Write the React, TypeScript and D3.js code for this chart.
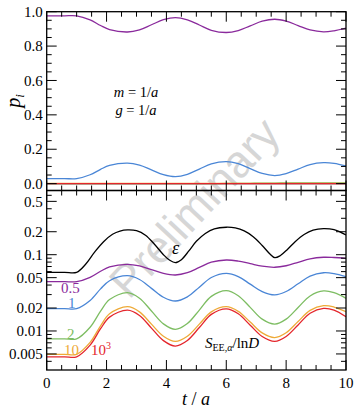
import * as d3 from "d3";

// time grid (t / a) shared by the coloured curves
const T = [0, 0.6, 1, 1.45, 1.8, 2.1, 2.7, 3.1, 3.5, 3.9, 4.3, 4.7, 5.1, 5.5, 6.0, 6.4, 6.8, 7.2, 7.62, 8.0, 8.4, 8.8, 9.25, 9.6, 10];

// top panel: p_i
const P_PURPLE = [0.976, 0.976, 0.976, 0.9525, 0.9196, 0.896, 0.882, 0.8946, 0.924, 0.9534, 0.966, 0.953, 0.9225, 0.892, 0.879, 0.8906, 0.9175, 0.9445, 0.956, 0.945, 0.9195, 0.894, 0.883, 0.889, 0.904];
const P_BLUE = [0.029, 0.029, 0.029, 0.0515, 0.083, 0.1055, 0.119, 0.1073, 0.08, 0.0527, 0.041, 0.054, 0.0845, 0.115, 0.128, 0.1159, 0.0875, 0.0592, 0.047, 0.0583, 0.0845, 0.1108, 0.122, 0.118, 0.103];
const P_BLACK = [0, 0, 0, 0, 0, 0, 0, 0, 0, 0, 0, 0, 0, 0, 0, 0, 0, 0, 0, 0, 0, 0, 0, 0, 0];
const P_GREEN = [0, 0, 0, 0, 0, 0, 0, 0, 0, 0, 0, 0, 0, 0, 0.001, 0.001, 0.002, 0.003, 0.003, 0.004, 0.004, 0.004, 0.004, 0.004, 0.004];
const P_ORANGE = [0.001, 0.001, 0.001, 0.001, 0.001, 0.001, 0.001, 0.001, 0.001, 0.001, 0.001, 0.001, 0.001, 0.001, 0.001, 0.001, 0.001, 0.001, 0.001, 0.001, 0.001, 0.001, 0.001, 0.001, 0.001];
const P_RED = [0, 0, 0, 0, 0, 0, 0, 0, 0, 0, 0, 0, 0, 0, 0, 0, 0, 0, 0, 0, 0, 0, 0, 0, 0];

// bottom panel: epsilon has its own, denser time grid
const EPS_T = [0, 0.6, 1.0, 1.3, 1.6, 1.9, 2.2, 2.45, 2.7, 3.0, 3.3, 3.6, 3.9, 4.1, 4.3, 4.5, 4.75, 5.0, 5.3, 5.6, 6.0, 6.3, 6.6, 6.9, 7.2, 7.45, 7.62, 7.8, 8.05, 8.3, 8.6, 8.9, 9.25, 9.6, 10];
const EPS = [0.0588, 0.0588, 0.0588, 0.075, 0.108, 0.148, 0.185, 0.204, 0.211, 0.206, 0.18, 0.137, 0.1, 0.085, 0.0785, 0.086, 0.112, 0.15, 0.19, 0.218, 0.229, 0.224, 0.205, 0.172, 0.132, 0.103, 0.0914, 0.097, 0.118, 0.148, 0.184, 0.21, 0.22, 0.213, 0.181];

// S_EE,alpha / ln D for alpha = 0.5, 1, 2, 10, 10^3
const S_05 = [0.0443, 0.0443, 0.0443, 0.0505, 0.0606, 0.0692, 0.0748, 0.0713, 0.0637, 0.0569, 0.0542, 0.058, 0.068, 0.0796, 0.0852, 0.0824, 0.0763, 0.0707, 0.0684, 0.0716, 0.0795, 0.0884, 0.0925, 0.0918, 0.0897];
const S_1 = [0.0196, 0.0196, 0.0196, 0.0251, 0.0356, 0.0456, 0.053, 0.0473, 0.0362, 0.0277, 0.0247, 0.028, 0.0375, 0.0503, 0.057, 0.0517, 0.0411, 0.0328, 0.0297, 0.0329, 0.0415, 0.0525, 0.058, 0.0565, 0.0515];
const S_2 = [0.0079, 0.0079, 0.0079, 0.0112, 0.0182, 0.0258, 0.0318, 0.0269, 0.0183, 0.0124, 0.0105, 0.0125, 0.0188, 0.0284, 0.0338, 0.029, 0.0204, 0.0143, 0.0123, 0.0143, 0.0203, 0.0288, 0.0335, 0.0318, 0.0268];
const S_10 = [0.00495, 0.00495, 0.00495, 0.00709, 0.0117, 0.0168, 0.0208, 0.0178, 0.0123, 0.00854, 0.0073, 0.00854, 0.0123, 0.0178, 0.0208, 0.0181, 0.0131, 0.00943, 0.0082, 0.00948, 0.0133, 0.0186, 0.0215, 0.0206, 0.0179];
const S_1000 = [0.00459, 0.00459, 0.00459, 0.00653, 0.0107, 0.0152, 0.0188, 0.016, 0.0109, 0.00747, 0.00635, 0.00751, 0.0111, 0.0165, 0.0195, 0.0168, 0.0119, 0.00846, 0.0073, 0.00848, 0.012, 0.0171, 0.0198, 0.0188, 0.0154];

const X_LABELS = [0, 2, 4, 6, 8, 10];
const TOP_LABELS = [0, 0.2, 0.4, 0.6, 0.8, 1.0];
const BOT_LABELS = [0.005, 0.01, 0.02, 0.05, 0.1, 0.2, 0.5];
const BOT_TEXT = ["0.005", "0.01", "0.02", "0.05", "0.1", "0.2", "0.5"];

const PURPLE = "#8a2a9c";
const BLUE = "#4a86d6";
const GREEN = "#7dbd62";
const ORANGE = "#eeaa38";
const RED = "#e4262c";

const W = 354;
const H = 411;
const L = 46.7;
const R = 346;
const TOP_Y0 = 11.7;
const MID_Y = 190.5;
const BOT_Y1 = 370;

export default function App() {
	const x = d3.scaleLinear().domain([0, 10]).range([L, R]);
	const yTop = d3.scaleLinear().domain([-0.04, 1]).range([MID_Y, TOP_Y0]);
	const yBot = d3.scaleLog().domain([0.00308, 0.694]).range([BOT_Y1, MID_Y]);

	const curve = d3.curveCatmullRom.alpha(0.5);
	const lineTop = (ts: number[], vs: number[]) =>
		d3
			.line<number>()
			.x((_, i) => x(ts[i]))
			.y((d) => yTop(d))
			.curve(curve)(vs) ?? "";
	const lineBot = (ts: number[], vs: number[]) =>
		d3
			.line<number>()
			.x((_, i) => x(ts[i]))
			.y((d) => yBot(d))
			.curve(curve)(vs) ?? "";

	const xMinor = d3.range(0, 10.001, 0.5);
	const topMinor = d3.range(0, 1.001, 0.05);
	const botMinor = yBot.ticks().filter((v) => yBot(v) > MID_Y + 0.5 && yBot(v) < BOT_Y1 - 0.5);

	const topSeries: [number[], string][] = [
		[P_BLACK, "#000"],
		[P_GREEN, GREEN],
		[P_ORANGE, ORANGE],
		[P_RED, RED],
		[P_BLUE, BLUE],
		[P_PURPLE, PURPLE],
	];
	const botSeries: [number[], number[], string][] = [
		[EPS_T, EPS, "#000"],
		[T, S_05, PURPLE],
		[T, S_1, BLUE],
		[T, S_2, GREEN],
		[T, S_10, ORANGE],
		[T, S_1000, RED],
	];

	const tickStroke = { stroke: "#000", strokeWidth: 1 };
	const serif = { fontFamily: "Liberation Serif" };

	return (
		<svg width={W} height={H} style={{ position: "absolute", left: 0, top: 0, background: "#fff" }}>
			<defs>
				<clipPath id="clipTop">
					<rect x={L} y={TOP_Y0} width={R - L} height={MID_Y - TOP_Y0} />
				</clipPath>
				<clipPath id="clipBot">
					<rect x={L} y={MID_Y} width={R - L} height={BOT_Y1 - MID_Y} />
				</clipPath>
			</defs>

			{/* watermark */}
			<text
				x={0}
				y={0}
				transform="translate(197,210) rotate(-47)"
				textAnchor="middle"
				dominantBaseline="middle"
				style={{ fontFamily: "Liberation Sans" }}
				fontSize={45}
				fill="#d6d6d6"
			>
				Preliminary
			</text>

			{/* curves */}
			<g clipPath="url(#clipTop)" fill="none" strokeWidth={1.3}>
				{topSeries.map(([d, c], i) => (
					<path key={i} d={lineTop(T, d)} stroke={c} />
				))}
			</g>
			<g clipPath="url(#clipBot)" fill="none" strokeWidth={1.3}>
				{botSeries.map(([ts, d, c], i) => (
					<path key={i} d={lineBot(ts, d)} stroke={c} />
				))}
			</g>

			{/* x ticks for both panels, top and bottom edges */}
			{[TOP_Y0, MID_Y, BOT_Y1].map((yy, k) =>
				xMinor.map((t) => {
					const major = Math.abs(t % 2) < 1e-6;
					const len = major ? 10 : 5;
					const xx = x(t);
					return (
						<g key={`x${k}-${t}`}>
							{k < 2 && <line x1={xx} x2={xx} y1={yy} y2={yy + len} {...tickStroke} />}
							{k > 0 && <line x1={xx} x2={xx} y1={yy} y2={yy - len} {...tickStroke} />}
						</g>
					);
				}),
			)}

			{/* top y ticks */}
			{topMinor.map((v) => {
				const major = Math.abs(Math.round(v * 5) - v * 5) < 1e-6;
				const len = major ? 10 : 5;
				const yy = yTop(v);
				return (
					<g key={`ty${v}`}>
						<line x1={L} x2={L + len} y1={yy} y2={yy} {...tickStroke} />
						<line x1={R} x2={R - len} y1={yy} y2={yy} {...tickStroke} />
					</g>
				);
			})}
			{TOP_LABELS.map((v) => (
				<text key={`tl${v}`} x={L - 4} y={yTop(v)} dy="0.35em" textAnchor="end" fontSize={15} style={serif}>
					{v.toFixed(1)}
				</text>
			))}

			{/* bottom y ticks */}
			{botMinor.map((v) => {
				const major = BOT_LABELS.some((b) => Math.abs(b - v) / b < 1e-6);
				const len = major ? 10 : 5;
				const yy = yBot(v);
				return (
					<g key={`by${v}`}>
						<line x1={L} x2={L + len} y1={yy} y2={yy} {...tickStroke} />
						<line x1={R} x2={R - len} y1={yy} y2={yy} {...tickStroke} />
					</g>
				);
			})}
			{BOT_LABELS.map((v, i) => (
				<text key={`bl${v}`} x={L - 4} y={yBot(v)} dy="0.35em" textAnchor="end" fontSize={15} style={serif}>
					{BOT_TEXT[i]}
				</text>
			))}

			{/* x labels */}
			{X_LABELS.map((v) => (
				<text key={`xl${v}`} x={x(v)} y={388} textAnchor="middle" fontSize={15} style={serif}>
					{v}
				</text>
			))}

			{/* frames */}
			<rect x={L} y={TOP_Y0} width={R - L} height={MID_Y - TOP_Y0} fill="none" stroke="#000" strokeWidth={1.3} />
			<rect x={L} y={MID_Y} width={R - L} height={BOT_Y1 - MID_Y} fill="none" stroke="#000" strokeWidth={1.3} />

			{/* axis titles */}
			<text x={196} y={405} textAnchor="middle" fontSize={18} fontStyle="italic" style={serif}>
				t <tspan fontStyle="normal">/</tspan> a
			</text>
			<text transform="translate(20,101) rotate(-90)" textAnchor="middle" fontSize={20} fontStyle="italic" style={serif}>
				p<tspan fontSize={13} dy={4}>i</tspan>
			</text>

			{/* annotations */}
			<text x={136} y={97} textAnchor="middle" fontSize={14.5} style={serif}>
				<tspan fontStyle="italic">m</tspan> = 1/<tspan fontStyle="italic">a</tspan>
			</text>
			<text x={136} y={115} textAnchor="middle" fontSize={14.5} style={serif}>
				<tspan fontStyle="italic">g</tspan> = 1/<tspan fontStyle="italic">a</tspan>
			</text>
			<text x={172} y={254} fontSize={18} fontStyle="italic" style={serif}>
				ε
			</text>
			<text x={205} y={348} fontSize={15} style={serif}>
				<tspan fontStyle="italic">S</tspan>
				<tspan fontSize={10} dy={3}>EE,</tspan>
				<tspan fontSize={10} fontStyle="italic">α</tspan>
				<tspan dy={-3}>/ln</tspan>
				<tspan fontStyle="italic">D</tspan>
			</text>
			<text x={61} y={293} fontSize={15} fill={PURPLE} style={serif}>
				0.5
			</text>
			<text x={68} y={308} fontSize={15} fill={BLUE} style={serif}>
				1
			</text>
			<text x={67} y={339} fontSize={15} fill={GREEN} style={serif}>
				2
			</text>
			<text x={64} y={355} fontSize={15} fill={ORANGE} style={serif}>
				10
			</text>
			<text x={91} y={355} fontSize={15} fill={RED} style={serif}>
				10<tspan fontSize={10} dy={-6}>3</tspan>
			</text>
		</svg>
	);
}
